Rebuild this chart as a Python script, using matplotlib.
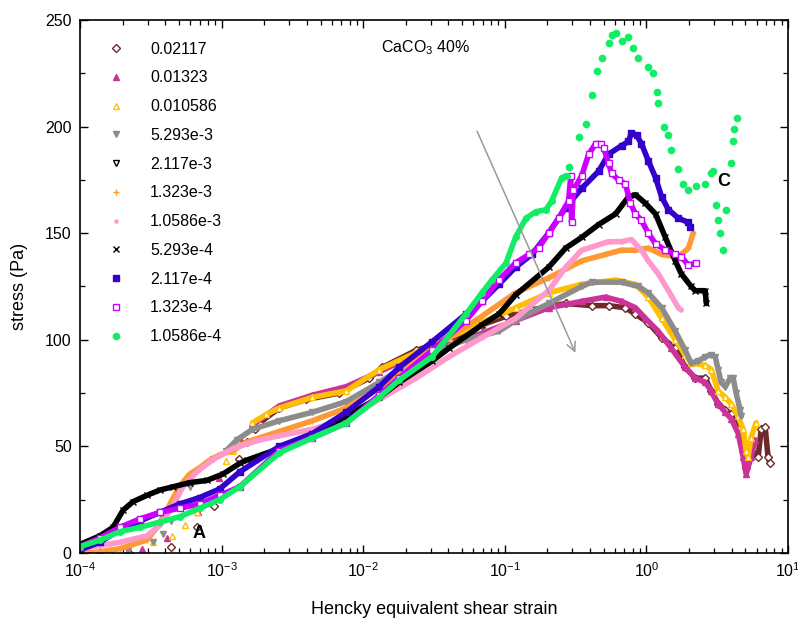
import matplotlib
matplotlib.use("Agg")
import matplotlib.pyplot as plt
import numpy as np
from matplotlib.lines import Line2D
from matplotlib.ticker import LogLocator, MultipleLocator, NullFormatter

plt.rcParams["font.family"] = ["Liberation Sans", "DejaVu Sans"]
plt.rcParams["mathtext.fontset"] = "custom"
plt.rcParams["mathtext.rm"] = "Liberation Sans"
plt.rcParams["mathtext.it"] = "Liberation Sans:italic"
plt.rcParams["mathtext.bf"] = "Liberation Sans:bold"

# --- data (strain, stress in Pa) ---
x_02117 = [2.21e-4, 4.37e-4, 6.67e-4, 8.78e-4, 1.32e-3, 1.52e-3, 1.71e-3, 1.85e-3, 2.56e-3, 3.97e-3,
           6.78e-3, 1.10e-2, 1.36e-2, 2.36e-2, 4.03e-2, 6.89e-2, 0.102, 0.155, 0.269, 0.410,
           0.540, 0.711, 0.837, 1.03, 1.28, 1.60, 1.88, 2.21, 2.60, 2.87,
           3.21, 3.60, 3.97, 4.45, 4.82, 5.06, 5.48, 6.15, 6.46, 6.89, 7.23, 7.47]
y_02117 = [0, 3, 12, 22, 44, 52, 58, 61, 68, 72,
           75, 82, 87, 95, 100, 107, 111, 114, 117, 116,
           116, 115, 112, 108, 101, 96, 87, 82, 82, 76,
           70, 67, 65, 58, 48, 40, 48, 45, 58, 59, 45, 42]

x_01323 = [1.38e-4, 2.73e-4, 4.10e-4, 6.78e-4, 9.52e-4, 1.38e-3, 1.65e-3, 2.56e-3, 4.38e-3, 7.59e-3,
           1.30e-2, 2.36e-2, 4.03e-2, 6.89e-2, 0.119, 0.204, 0.349, 0.514, 0.667, 0.837,
           0.984, 1.21, 1.50, 1.88, 2.21, 2.60, 2.87, 3.21, 3.60, 3.97,
           4.45, 4.82, 5.06, 5.48, 5.86]
y_01323 = [1, 2, 7, 19, 35, 53, 60, 69, 74, 78,
           85, 93, 98, 103, 109, 115, 118, 120, 118, 115,
           110, 104, 96, 87, 82, 80, 76, 70, 66, 63,
           56, 45, 37, 45, 53]

x_010586 = [3.27e-4, 4.44e-4, 5.49e-4, 6.67e-4, 1.08e-3, 1.20e-3, 1.30e-3, 1.65e-3, 2.07e-3, 2.56e-3,
            4.38e-3, 7.59e-3, 1.30e-2, 2.36e-2, 4.03e-2, 6.89e-2, 0.119, 0.204, 0.349, 0.605,
            0.837, 1.03, 1.28, 1.60, 1.88, 2.07, 2.60, 2.87, 3.21, 3.60,
            3.97, 4.45, 4.82, 5.06, 5.22, 5.48, 5.95]
y_010586 = [5, 8, 13, 19, 43, 48, 52, 61, 65, 68,
            73, 76, 86, 94, 101, 108, 115, 122, 126, 128,
            126, 120, 110, 100, 93, 89, 88, 86, 76, 73,
            70, 64, 58, 48, 45, 54, 61]

x_5293e3 = [1.10e-4, 1.68e-4, 2.18e-4, 3.27e-4, 3.84e-4, 4.37e-4, 5.95e-4, 8.64e-4, 1.08e-3, 1.28e-3,
            1.65e-3, 2.56e-3, 4.38e-3, 7.59e-3, 1.30e-2, 1.79e-2, 3.06e-2, 5.31e-2, 9.08e-2, 0.119,
            0.204, 0.349, 0.410, 0.667, 0.879, 1.03, 1.28, 1.60, 1.88, 2.07,
            2.32, 2.60, 2.87, 3.06, 3.21, 3.37, 3.60, 3.91, 4.10, 4.30, 4.59, 4.67]
y_5293e3 = [0, 1, 1, 5, 9, 15, 31, 44, 48, 53,
            58, 62, 66, 71, 80, 86, 94, 100, 104, 109,
            117, 125, 127, 127, 125, 122, 115, 104, 95, 89,
            90, 92, 93, 92, 86, 80, 78, 82, 82, 75, 67, 64]

x_2117e3 = []
y_2117e3 = []

x_1323e3 = [1.12e-4, 1.38e-4, 1.91e-4, 2.36e-4, 2.96e-4, 3.49e-4, 4.10e-4, 4.82e-4, 5.31e-4, 5.95e-4,
            7.00e-4, 8.23e-4, 9.68e-4, 1.20e-3, 1.50e-3, 2.56e-3, 4.38e-3, 7.59e-3, 1.30e-2, 2.36e-2,
            4.03e-2, 6.89e-2, 0.119, 0.204, 0.349, 0.514, 0.667, 0.837, 1.03, 1.28,
            1.60, 1.76, 1.98, 2.14]
y_1323e3 = [0, 0.5, 2, 4, 6, 12, 20, 29, 33, 37,
            40, 43.5, 46, 48, 52, 57, 62, 68, 77, 90,
            101, 111, 122, 129, 137, 140, 142, 142, 143, 140,
            139, 140, 143, 150]

x_10586e3 = [1.00e-4, 1.91e-4, 2.96e-4, 3.66e-4, 4.52e-4, 5.31e-4, 6.67e-4, 8.78e-4, 1.20e-3, 1.85e-3,
             2.56e-3, 4.38e-3, 7.59e-3, 1.30e-2, 2.36e-2, 4.03e-2, 6.89e-2, 0.119, 0.165, 0.204,
             0.269, 0.349, 0.540, 0.667, 0.784, 0.922, 1.03, 1.21, 1.43, 1.68, 1.76]
y_10586e3 = [2, 5, 8, 13, 22, 31, 38, 44, 49, 53,
             55, 58, 63, 72, 82, 92, 101, 110, 118, 123,
             134, 142, 146, 146, 147, 142, 137, 131, 123, 115, 114]

x_5293e4 = [1.00e-4, 1.38e-4, 1.71e-4, 2.01e-4, 2.36e-4, 2.96e-4, 3.66e-4, 4.52e-4, 5.95e-4, 7.84e-4,
            1.02e-3, 1.34e-3, 1.50e-3, 2.56e-3, 4.38e-3, 7.59e-3, 1.30e-2, 1.79e-2, 3.06e-2, 4.03e-2,
            6.89e-2, 9.08e-2, 0.119, 0.204, 0.269, 0.349, 0.459, 0.605, 0.747, 0.837,
            0.984, 1.16, 1.36, 1.60, 1.76, 2.07, 2.21, 2.60, 2.65]
y_5293e4 = [4, 8, 12, 20, 24, 27, 29.5, 31, 33, 34,
            37, 42, 43.5, 49, 55, 64, 73, 80, 90, 96,
            107, 112, 121, 134, 143, 148, 154, 159, 167, 168,
            164, 159, 148, 137, 131, 125, 123, 123, 117]

x_2117e4 = [1.00e-4, 1.38e-4, 1.91e-4, 2.65e-4, 3.66e-4, 5.06e-4, 7.00e-4, 9.68e-4, 1.34e-3, 2.56e-3,
            4.38e-3, 7.59e-3, 1.30e-2, 1.79e-2, 3.06e-2, 5.31e-2, 6.89e-2, 9.08e-2, 0.119, 0.155,
            0.204, 0.269, 0.349, 0.459, 0.540, 0.667, 0.747, 0.784, 0.851, 0.922,
            1.03, 1.16, 1.28, 1.43, 1.68, 1.98, 2.04]
y_2117e4 = [1.5, 5, 11, 15, 19, 23, 26, 30, 38, 50,
            56, 66, 78, 87, 99, 112, 118, 126, 134, 140,
            150, 162, 171, 179, 187, 191, 193, 197, 196, 192,
            184, 176, 167, 161, 157, 155, 153]

x_1323e4 = [1.00e-4, 1.38e-4, 1.91e-4, 2.65e-4, 3.66e-4, 5.06e-4, 7.00e-4, 9.68e-4, 1.34e-3, 2.56e-3,
            4.38e-3, 7.59e-3, 1.30e-2, 1.79e-2, 3.06e-2, 5.31e-2, 6.89e-2, 9.08e-2, 0.119, 0.148,
            0.173, 0.204, 0.240, 0.282, 0.292, 0.296, 0.305, 0.349, 0.391, 0.438,
            0.474, 0.498, 0.540, 0.567, 0.635, 0.711, 0.771, 0.837, 0.922, 1.03,
            1.16, 1.36, 1.60, 1.76, 1.98, 2.25]
y_1323e4 = [3, 7, 12, 16, 19, 21, 23, 27, 31, 48,
            54, 61, 74, 82, 95, 109, 118, 128, 136, 140,
            143, 150, 157, 165, 177, 155, 170, 177, 187, 192,
            192, 190, 183, 178, 175, 173, 164, 159, 156, 150,
            145, 142, 140, 139, 135, 136]

x_10586e4 = [1.00e-4, 1.38e-4, 1.91e-4, 2.65e-4, 3.66e-4, 5.06e-4, 7.00e-4, 9.68e-4, 1.34e-3, 2.56e-3,
             4.38e-3, 7.59e-3, 1.30e-2, 1.79e-2, 3.06e-2, 5.31e-2, 6.89e-2, 8.10e-2, 0.102, 0.119,
             0.141, 0.165, 0.195, 0.214, 0.252, 0.273]
y_10586e4 = [3, 6, 10, 12, 14.5, 17, 21, 25, 31, 47,
             54, 61, 73, 81, 92, 112, 122, 128, 136, 148,
             157, 160, 161, 165, 176, 177]
# the fastest run breaks up into separate dots past the linear region
x_10586e4_tail = [0.282, 0.332, 0.372, 0.410, 0.445, 0.482, 0.540, 0.567, 0.605, 0.667,
                  0.747, 0.810, 0.879, 1.03, 1.12, 1.18, 1.21, 1.32, 1.43, 1.50,
                  1.68, 1.82, 1.98, 2.25, 2.60, 2.87, 2.96, 3.11, 3.21, 3.32,
                  3.49, 3.66, 3.97, 4.10, 4.17, 4.37]
y_10586e4_tail = [181, 195, 201, 215, 226, 232, 239, 243, 244, 240,
                  242, 237, 232, 228, 225, 216, 211, 200, 196, 189,
                  180, 173, 170, 172, 173, 178, 179, 163, 156, 150,
                  142, 161, 183, 193, 199, 204]

labels = ["0.02117", "0.01323", "0.010586", "5.293e-3", "2.117e-3", "1.323e-3",
          "1.0586e-3", "5.293e-4", "2.117e-4", "1.323e-4", "1.0586e-4"]

# label, x, y, sparse leading points, colour, marker, filled
series = [
    (labels[0], x_02117, y_02117, 7, "#6e2a2a", "D", False),
    (labels[1], x_01323, y_01323, 6, "#cc3399", "^", True),
    (labels[2], x_010586, y_010586, 7, "#ffc000", "^", False),
    (labels[3], x_5293e3, y_5293e3, 8, "#8c8c8c", "v", True),
    (labels[4], x_2117e3, y_2117e3, 0, "#000000", "v", False),
    (labels[5], x_1323e3, y_1323e3, 0, "#ff9933", "+", True),
    (labels[6], x_10586e3, y_10586e3, 0, "#ff99cc", ".", True),
    (labels[7], x_5293e4, y_5293e4, 0, "#000000", "x", True),
    (labels[8], x_2117e4, y_2117e4, 0, "#3300cc", "s", True),
    (labels[9], x_1323e4, y_1323e4, 0, "#cc00ff", "s", False),
    (labels[10], x_10586e4, y_10586e4, 0, "#11ee66", "o", True),
]

fig = plt.figure(figsize=(7.98, 6.22), dpi=100)
ax = fig.add_axes([0.1003, 0.111, 0.8872, 0.857])

handles = []
for label, xs, ys, head, color, marker, filled in series:
    xs = np.asarray(xs, dtype=float)
    ys = np.asarray(ys, dtype=float)
    mfc = color if filled else "white"
    if len(xs):
        if head:
            ax.plot(xs[:head], ys[:head], ls="none", marker=marker, ms=4.5,
                    color=color, mfc=mfc, mew=1.0)
        ax.plot(xs[head:], ys[head:], color=color, lw=4, marker=marker, ms=4,
                mfc=mfc, mew=1.0, solid_joinstyle="round", solid_capstyle="round")
    handles.append(Line2D([], [], ls="none", marker=marker, ms=4.5, color=color,
                          mfc=mfc, mew=1.0, label=label))

ax.plot(x_10586e4_tail, y_10586e4_tail, ls="none", marker="o", ms=4.5, color="#11ee66")

ax.set_xscale("log")
ax.set_xlim(1e-4, 10)
ax.set_ylim(0, 250)
ax.yaxis.set_major_locator(MultipleLocator(50))
ax.yaxis.set_minor_locator(MultipleLocator(25))
ax.xaxis.set_minor_locator(LogLocator(base=10, subs=np.arange(2, 10), numticks=20))
ax.xaxis.set_minor_formatter(NullFormatter())
ax.tick_params(which="both", direction="in", top=True, right=True, labelsize=11.5, pad=6)
ax.tick_params(which="major", length=6, width=1.0)
ax.tick_params(which="minor", length=3.5, width=0.9)
for sp in ax.spines.values():
    sp.set_linewidth(1.2)

ax.set_xlabel("Hencky equivalent shear strain", fontsize=13, labelpad=15)
ax.set_ylabel("stress (Pa)", fontsize=13, labelpad=12)

ax.legend(handles=handles, loc="upper left", bbox_to_anchor=(0.022, 0.98), frameon=False,
          fontsize=11.5, handlelength=1.2, handletextpad=1.5, labelspacing=0.86,
          borderaxespad=0.3)

ax.text(1.34e-2, 237, "CaCO$_3$ 40%", fontsize=11.5, va="center", ha="left")
ax.text(6.9e-4, 9, "A", fontsize=13, fontweight="bold", ha="center", va="center")
ax.text(3.54, 174, "C", fontsize=13, fontweight="bold", ha="center", va="center")
ax.annotate("", xy=(0.321, 92.7), xytext=(0.0625, 199),
            arrowprops=dict(arrowstyle="->", color="#999999", lw=1.1, mutation_scale=16))

fig.savefig("out.png", dpi=100)
